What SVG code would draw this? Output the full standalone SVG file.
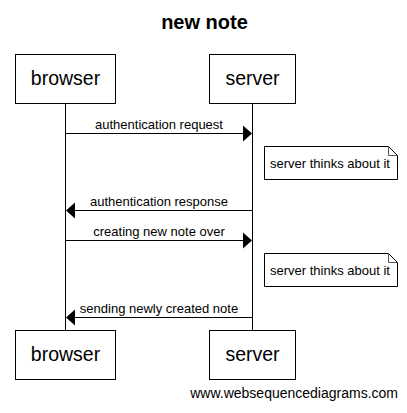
<svg xmlns="http://www.w3.org/2000/svg" width="407" height="413" viewBox="0 0 407 413">
<style>
.box{fill:#fff;stroke:#000;stroke-width:1}
.pt{font-family:"Liberation Sans",Arial,sans-serif;font-size:19.5px;text-anchor:middle;fill:#000}
.msg{font-family:"Liberation Sans",Arial,sans-serif;font-size:13px;text-anchor:middle;fill:#000}
.nt{font-family:"Liberation Sans",Arial,sans-serif;font-size:13px;fill:#000}
.line{stroke:#000;stroke-width:1;fill:none}
.note{fill:#fff;stroke:#000;stroke-width:1}
.fold{fill:none;stroke:#555;stroke-width:1}
</style>
<rect width="407" height="413" fill="#fff"/>
<text x="204.5" y="29" font-family="'Liberation Sans',Arial,sans-serif" font-size="20" font-weight="bold" text-anchor="middle">new note</text>
<g id="lifelines">
<line class="line" x1="65.5" y1="103" x2="65.5" y2="330"/>
<line class="line" x1="252.5" y1="103" x2="252.5" y2="330"/>
</g>
<g id="browser-top"><rect class="box" x="15.5" y="54.5" width="100" height="49"/><text class="pt" x="65.5" y="85">browser</text></g>
<g id="server-top"><rect class="box" x="209.5" y="54.5" width="86" height="49"/><text class="pt" x="252.5" y="85">server</text></g>
<g id="browser-bottom"><rect class="box" x="15.5" y="330.5" width="100" height="49"/><text class="pt" x="65.5" y="361">browser</text></g>
<g id="server-bottom"><rect class="box" x="209.5" y="330.5" width="86" height="49"/><text class="pt" x="252.5" y="361">server</text></g>
<g id="connectors">
<line class="line" x1="65.5" y1="133.5" x2="244" y2="133.5"/>
<polygon points="252,133.5 243,125.5 243,141.5" fill="#000"/>
<text class="msg" x="159" y="129">authentication request</text>
<line class="line" x1="252.5" y1="210.5" x2="74" y2="210.5"/>
<polygon points="66,210.5 75,202.5 75,218.5" fill="#000"/>
<text class="msg" x="159" y="206">authentication response</text>
<line class="line" x1="65.5" y1="240.5" x2="244" y2="240.5"/>
<polygon points="252,240.5 243,232.5 243,248.5" fill="#000"/>
<text class="msg" x="159" y="236">creating new note over</text>
<line class="line" x1="252.5" y1="317.5" x2="74" y2="317.5"/>
<polygon points="66,317.5 75,309.5 75,325.5" fill="#000"/>
<text class="msg" x="159" y="313">sending newly created note</text>
</g>
<g id="note1">
<path class="note" d="M264.5,146.5 H388.5 L397.5,155.5 V179.5 H264.5 Z"/>
<path class="fold" d="M388.5,146.5 V155.5 H397.5"/>
<text class="nt" x="270" y="168">server thinks about it</text>
</g>
<g id="note2">
<path class="note" d="M264.5,253.5 H388.5 L397.5,262.5 V286.5 H264.5 Z"/>
<path class="fold" d="M388.5,253.5 V262.5 H397.5"/>
<text class="nt" x="270" y="275">server thinks about it</text>
</g>
<text x="398" y="398" font-family="'Liberation Sans',Arial,sans-serif" font-size="14" text-anchor="end">www.websequencediagrams.com</text>
</svg>
